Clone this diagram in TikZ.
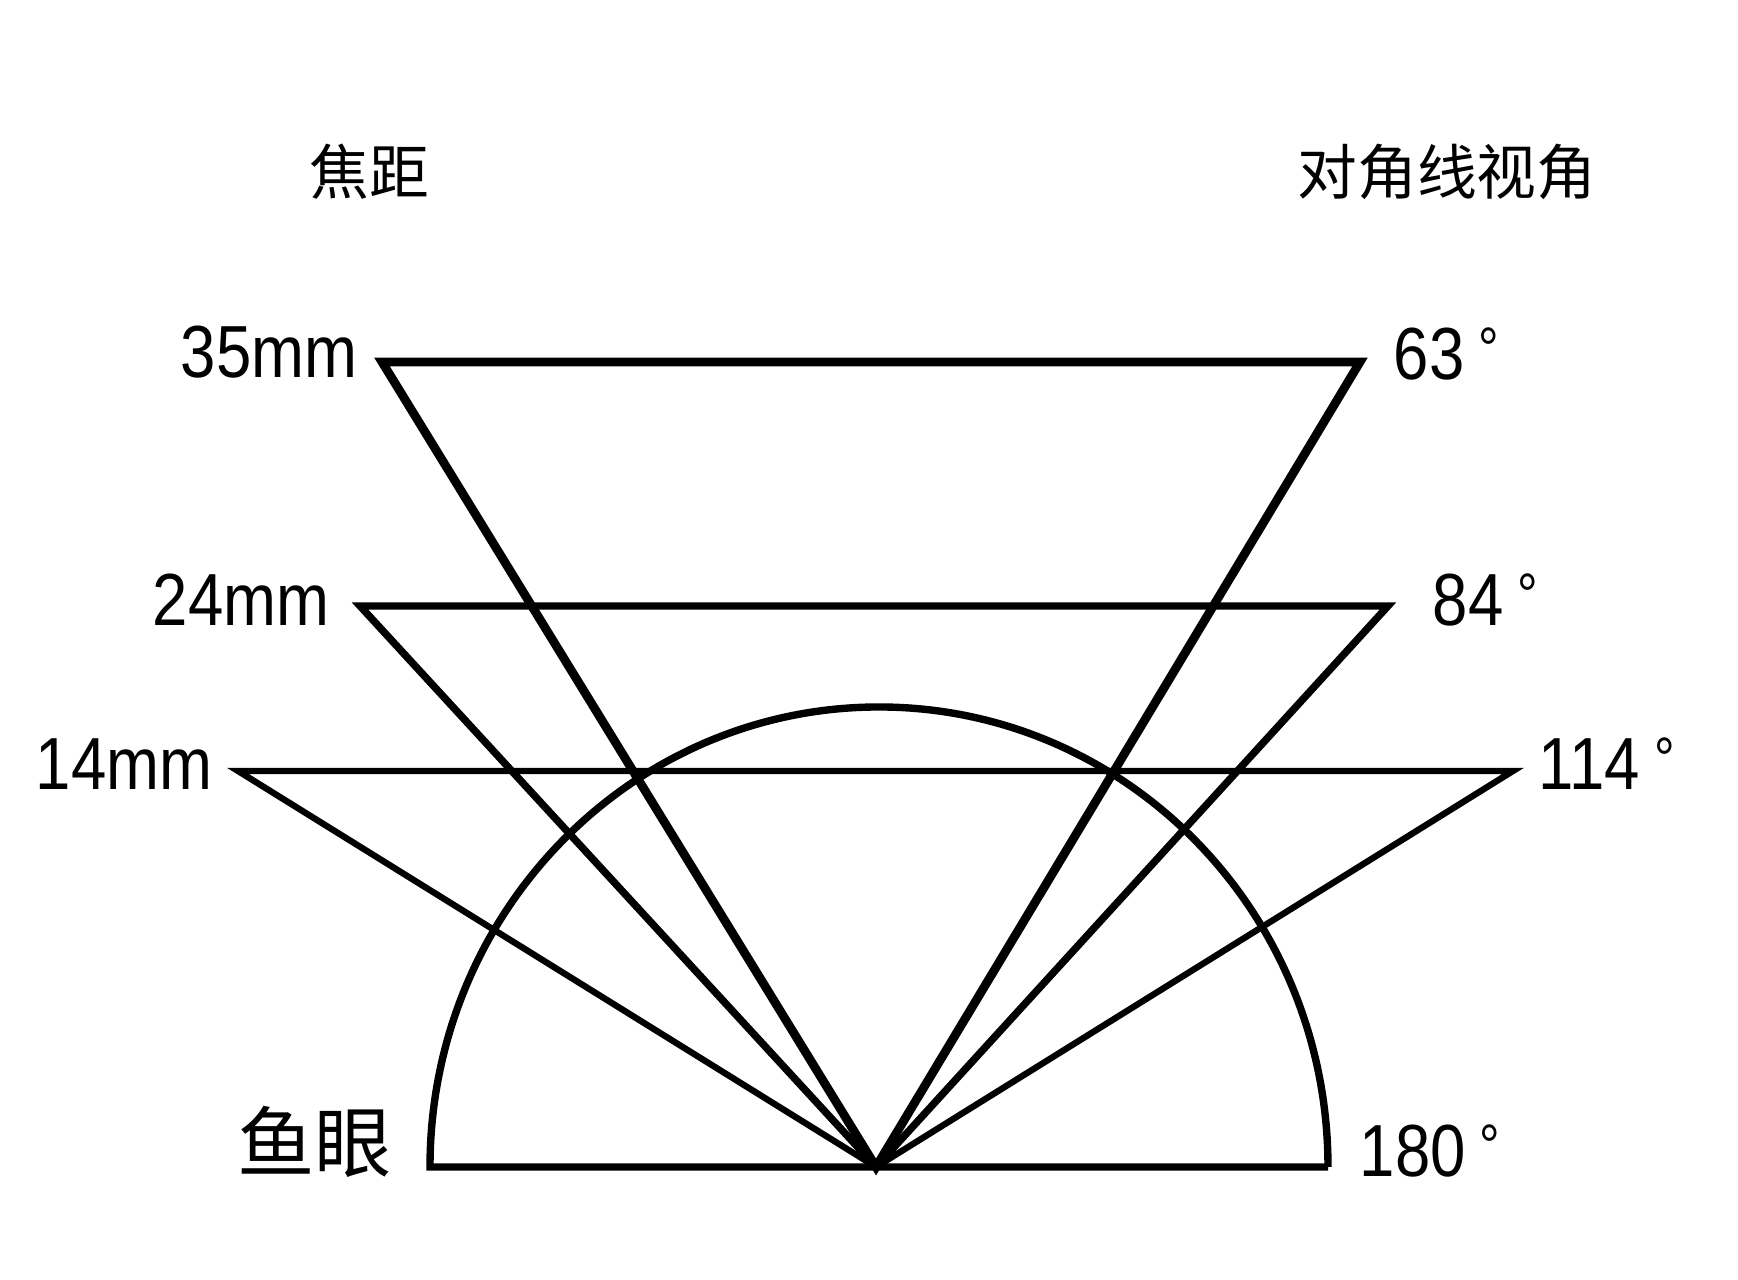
\documentclass[tikz,border=0pt]{standalone}
\usepackage{fontspec}
\setmainfont{Liberation Sans}[FakeStretch=0.86]
\newfontfamily\cjk{Noto Sans CJK SC}
\newcommand{\degsign}{\kern4pt\raisebox{3pt}{\fontsize{17}{17}\selectfont °}}

\tikzset{
  mmlabel/.style={font=\fontsize{21}{21}\selectfont, inner sep=0pt},
  cjklabel/.style={font=\cjk\fontsize{17}{17}\selectfont, inner sep=0pt},
}

\begin{document}
\begin{tikzpicture}[x=0.01cm, y=0.01cm, line join=miter]
    \useasboundingbox (0,0) rectangle (1738,1280);
    % apex and the ends of each field
    \coordinate (O) at (876,113);
    \coordinate (L35) at (382,918);
    \coordinate (R35) at (1360,918);
    \coordinate (L24) at (360,674);
    \coordinate (R24) at (1388,674);
    \coordinate (L14) at (238,509);
    \coordinate (R14) at (1513,509);
    \coordinate (FL) at (430,113);
    \coordinate (FR) at (1328,113);
    \draw[line width=2.5pt] (L35) -- (R35) -- (O) -- cycle;
    \draw[line width=2.1pt] (L24) -- (R24) -- (O) -- cycle;
    \draw[line width=1.8pt] (L14) -- (R14) -- (O) -- cycle;
    \draw[line width=2.1pt] (FR) -- (FL) arc[start angle=180, end angle=0, x radius=449, y radius=460];
    % labels
    \node[cjklabel] (tfocal) at (369,1108) {焦距};
    \node[cjklabel] (tangle) at (1447,1108) {对角线视角};
    \node[mmlabel, anchor=base east] (t35) at ([shift={(-24,-16)}]L35) {35mm};
    \node[mmlabel, anchor=base east] (t24) at ([shift={(-30,-20)}]L24) {24mm};
    \node[mmlabel, anchor=base east] (t14) at ([shift={(-25,-19)}]L14) {14mm};
    \node[cjklabel, font=\cjk\fontsize{22}{22}\selectfont, anchor=base east] (tfish) at ([shift={(-37,-5)}]FL) {鱼眼};
    \node[mmlabel, anchor=base west] (a63) at ([shift={(33,-18)}]R35) {63\degsign};
    \node[mmlabel, anchor=base west] (a84) at ([shift={(44,-20)}]R24) {84\degsign};
    \node[mmlabel, anchor=base west] (a114) at ([shift={(25,-19)}]R14) {114\degsign};
    \node[mmlabel, anchor=base west] (a180) at ([shift={(31,-10)}]FR) {180\degsign};
\end{tikzpicture}
\end{document}
